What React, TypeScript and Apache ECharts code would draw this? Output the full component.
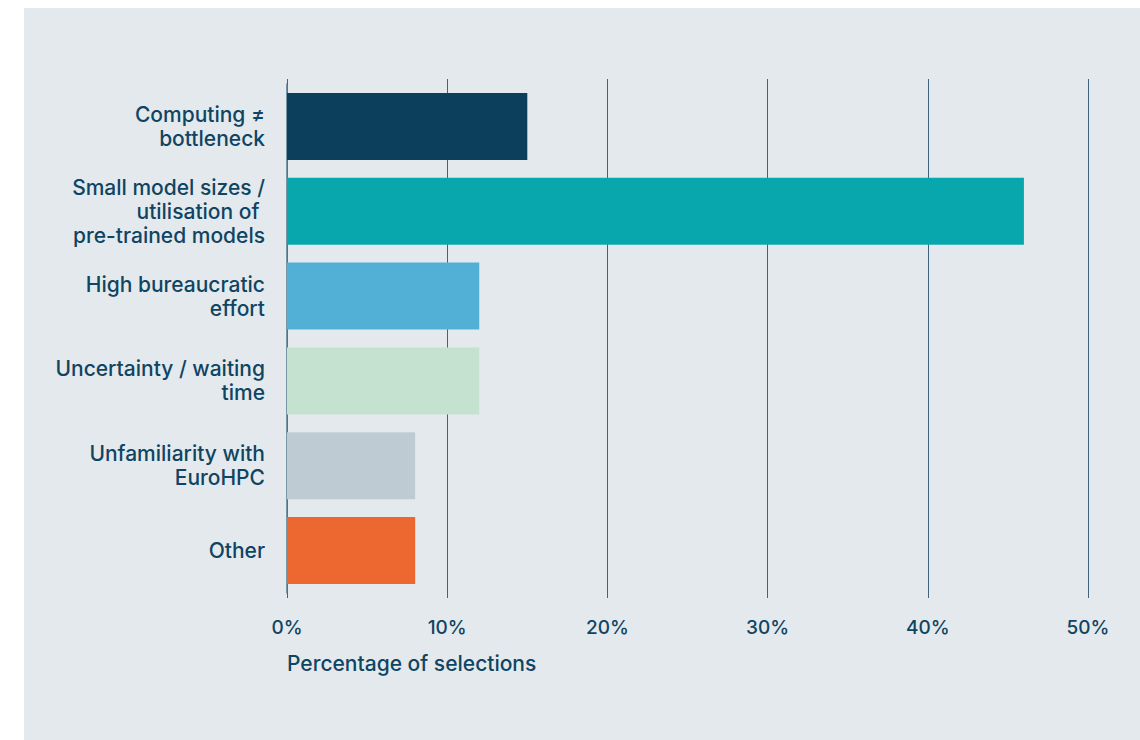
import React, { useEffect, useRef } from "react";
import * as echarts from "echarts";

const categories = [
  "Computing ≠\nbottleneck",
  "Small model sizes /\nutilisation of \npre-trained models",
  "High bureaucratic\neffort",
  "Uncertainty / waiting\ntime",
  "Unfamiliarity with\nEuroHPC",
  "Other",
];
const values = [15, 46, 12, 12, 8, 8];
const barColors = ["#0b3f5c", "#08a6ad", "#52b0d7", "#c5e2d1", "#bfcbd3", "#ed6731"];
const xTicks = [0, 10, 20, 30, 40, 50];

const TEXT = "#0f4462";
const GRID = "#3f6480";
const FONT = "Inter";

export default function App() {
  const ref = useRef<HTMLDivElement>(null);
  useEffect(() => {
    const chart = echarts.init(ref.current!, null, { renderer: "svg" });
    const axisCommon = {
      type: "value" as const,
      min: xTicks[0],
      max: xTicks[xTicks.length - 1],
      interval: 10,
    };
    chart.setOption({
      animation: false,
      backgroundColor: "#ffffff",
      graphic: [
        {
          type: "rect",
          shape: { x: 24, y: 8, width: 1116, height: 732 },
          style: { fill: "#e4e9ed" },
          z: -10,
        },
        {
          type: "text",
          x: 287,
          y: 663,
          style: {
            text: "Percentage of selections",
            fill: TEXT,
            font: `500 21px ${FONT}`,
            textVerticalAlign: "middle",
            textAlign: "left",
          },
        },
      ],
      grid: { left: 287, right: 52, top: 84, height: 509, containLabel: false },
      xAxis: [
        {
          ...axisCommon,
          position: "bottom",
          axisLine: { show: false },
          axisTick: { show: true, length: 5, lineStyle: { color: GRID, width: 1 } },
          splitLine: { show: true, lineStyle: { color: GRID, width: 1 } },
          axisLabel: {
            formatter: "{value}%",
            color: TEXT,
            fontFamily: FONT,
            fontWeight: 500,
            fontSize: 19,
            margin: 25,
          },
        },
        {
          ...axisCommon,
          position: "top",
          axisLine: { show: false },
          axisTick: { show: true, length: 5, lineStyle: { color: GRID, width: 1 } },
          splitLine: { show: false },
          axisLabel: { show: false },
        },
      ],
      yAxis: {
        type: "category",
        data: categories,
        inverse: true,
        axisLine: { show: true, lineStyle: { color: "#567a92", width: 1.5 } },
        axisTick: { show: false },
        axisLabel: {
          color: TEXT,
          fontFamily: FONT,
          fontWeight: 500,
          fontSize: 21,
          lineHeight: 24,
          margin: 22,
          align: "right",
        },
      },
      series: [
        {
          type: "bar",
          xAxisIndex: 0,
          data: values.map((v, i) => ({ value: v, itemStyle: { color: barColors[i] } })),
          barWidth: 67,
        },
      ],
    });
    return () => chart.dispose();
  }, []);
  return (
    <div
      ref={ref}
      style={{ position: "fixed", left: 0, top: 0, width: 1140, height: 740 }}
    />
  );
}
